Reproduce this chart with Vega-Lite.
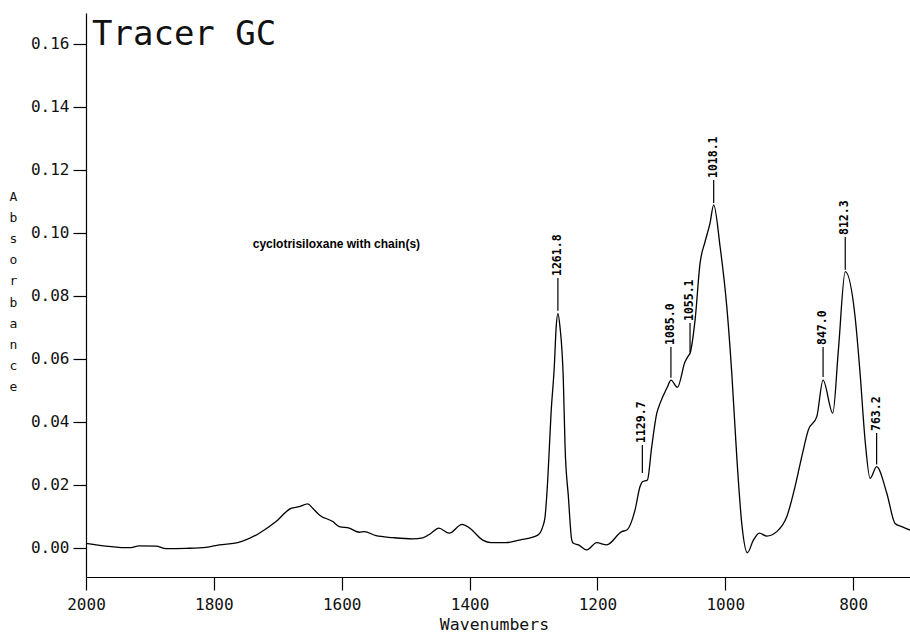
{
  "$schema": "https://vega.github.io/schema/vega-lite/v6.json",
  "width": 824,
  "height": 564,
  "autosize": {"type": "none"},
  "padding": {"left": 86, "top": 13, "right": 0, "bottom": 55},
  "background": "white",
  "config": {
    "view": {"stroke": null},
    "axis": {
      "grid": false,
      "domainColor": "#000",
      "tickColor": "#000",
      "labelColor": "#111",
      "titleColor": "#111",
      "labelFont": "DejaVu Sans Mono",
      "titleFont": "DejaVu Sans Mono",
      "titleFontWeight": "normal",
      "domainWidth": 1.2,
      "tickWidth": 1.2
    }
  },
  "datasets": {
    "spectrum": [
      {"wn": 2000, "abs": 0.0014}, {"wn": 1932.3, "abs": 0.0000}, {"wn": 1916.6, "abs": 0.0006},
      {"wn": 1890.5, "abs": 0.0005}, {"wn": 1874.8, "abs": -0.0003}, {"wn": 1843.5, "abs": -0.0002},
      {"wn": 1812.3, "abs": 0.0001}, {"wn": 1791.5, "abs": 0.0009}, {"wn": 1762.7, "abs": 0.0016},
      {"wn": 1728.9, "abs": 0.0046}, {"wn": 1702.7, "abs": 0.0083}, {"wn": 1679.3, "abs": 0.0125},
      {"wn": 1666.3, "abs": 0.0130}, {"wn": 1653.2, "abs": 0.0139}, {"wn": 1645.3, "abs": 0.0125},
      {"wn": 1635, "abs": 0.0104}, {"wn": 1614, "abs": 0.0083}, {"wn": 1603.7, "abs": 0.0067},
      {"wn": 1588.1, "abs": 0.0062}, {"wn": 1572.4, "abs": 0.0049}, {"wn": 1564.6, "abs": 0.0051},
      {"wn": 1546.3, "abs": 0.0038}, {"wn": 1520.2, "abs": 0.0032}, {"wn": 1488.9, "abs": 0.0028},
      {"wn": 1473.2, "abs": 0.0031}, {"wn": 1460.2, "abs": 0.0046}, {"wn": 1448.2, "abs": 0.0062},
      {"wn": 1431.6, "abs": 0.0046}, {"wn": 1411.7, "abs": 0.0074}, {"wn": 1400.3, "abs": 0.0063},
      {"wn": 1379.4, "abs": 0.0024}, {"wn": 1366.4, "abs": 0.0016}, {"wn": 1342.9, "abs": 0.0016},
      {"wn": 1322.1, "abs": 0.0024}, {"wn": 1293.3, "abs": 0.0040}, {"wn": 1285.5, "abs": 0.0067},
      {"wn": 1281.9, "abs": 0.0098}, {"wn": 1277.7, "abs": 0.0215}, {"wn": 1272.5, "abs": 0.0427},
      {"wn": 1267.3, "abs": 0.0580}, {"wn": 1264.5, "abs": 0.0700}, {"wn": 1261.8, "abs": 0.0744},
      {"wn": 1258.5, "abs": 0.0700}, {"wn": 1253.3, "abs": 0.0532}, {"wn": 1250.6, "abs": 0.0321},
      {"wn": 1245.4, "abs": 0.0162}, {"wn": 1240.1, "abs": 0.0024}, {"wn": 1237.6, "abs": 0.0014},
      {"wn": 1229.8, "abs": 0.0009}, {"wn": 1216.7, "abs": -0.0007}, {"wn": 1201, "abs": 0.0016},
      {"wn": 1185.4, "abs": 0.0009}, {"wn": 1161.9, "abs": 0.0051}, {"wn": 1154.1, "abs": 0.0056},
      {"wn": 1141.1, "abs": 0.0120}, {"wn": 1133.3, "abs": 0.0194}, {"wn": 1129.7, "abs": 0.0209},
      {"wn": 1121.8, "abs": 0.0215}, {"wn": 1115, "abs": 0.0321}, {"wn": 1107.1, "abs": 0.0427},
      {"wn": 1102, "abs": 0.0458}, {"wn": 1090.5, "abs": 0.0510}, {"wn": 1085.0, "abs": 0.0532},
      {"wn": 1074.9, "abs": 0.0509}, {"wn": 1062.9, "abs": 0.0590}, {"wn": 1057.7, "abs": 0.0609},
      {"wn": 1055.1, "abs": 0.0617}, {"wn": 1047.2, "abs": 0.0723}, {"wn": 1039.4, "abs": 0.0903},
      {"wn": 1031.6, "abs": 0.0971}, {"wn": 1023.8, "abs": 0.1030}, {"wn": 1018.1, "abs": 0.1088},
      {"wn": 1008.1, "abs": 0.0956}, {"wn": 997.6, "abs": 0.0765}, {"wn": 989.8, "abs": 0.0554},
      {"wn": 982, "abs": 0.0289}, {"wn": 974.2, "abs": 0.0077}, {"wn": 965.4, "abs": -0.0016},
      {"wn": 956, "abs": 0.0024}, {"wn": 946.6, "abs": 0.0046}, {"wn": 935.1, "abs": 0.0037},
      {"wn": 919.4, "abs": 0.0051}, {"wn": 903.8, "abs": 0.0098}, {"wn": 890.8, "abs": 0.0194},
      {"wn": 880.3, "abs": 0.0289}, {"wn": 870, "abs": 0.0374}, {"wn": 856.8, "abs": 0.0416},
      {"wn": 847.0, "abs": 0.0532}, {"wn": 831.8, "abs": 0.0427}, {"wn": 823, "abs": 0.0628},
      {"wn": 812.3, "abs": 0.0876}, {"wn": 796.9, "abs": 0.0733}, {"wn": 789.1, "abs": 0.0554},
      {"wn": 781.3, "abs": 0.0342}, {"wn": 773.4, "abs": 0.0220}, {"wn": 763.2, "abs": 0.0257},
      {"wn": 747.3, "abs": 0.0173}, {"wn": 734.3, "abs": 0.0077}, {"wn": 723.8, "abs": 0.0067},
      {"wn": 711, "abs": 0.0056}
    ],
    "peaks": [
      {"wn": 1261.8, "label": "1261.8", "abs": 0.0752, "hi": 0.0856},
      {"wn": 1129.7, "label": "1129.7", "abs": 0.0237, "hi": 0.0326},
      {"wn": 1085.0, "label": "1085.0", "abs": 0.0539, "hi": 0.0637},
      {"wn": 1055.1, "label": "1055.1", "abs": 0.0620, "hi": 0.0713},
      {"wn": 1018.1, "label": "1018.1", "abs": 0.1094, "hi": 0.1167},
      {"wn": 847.0, "label": "847.0", "abs": 0.0542, "hi": 0.0637},
      {"wn": 812.3, "label": "812.3", "abs": 0.0882, "hi": 0.0986},
      {"wn": 763.2, "label": "763.2", "abs": 0.0264, "hi": 0.0364}
    ]
  },
  "encoding": {
    "x": {
      "field": "wn", "type": "quantitative",
      "scale": {"domain": [711, 2000], "reverse": true, "nice": false, "zero": false},
      "axis": {
        "values": [2000, 1800, 1600, 1400, 1200, 1000, 800],
        "format": "d",
        "tickSize": 13,
        "labelPadding": 6,
        "labelFontSize": 16,
        "labelFlush": false,
        "title": "Wavenumbers",
        "titleFontSize": 16.5,
        "titleX": 408,
        "titleY": 52,
        "titleBaseline": "alphabetic",
        "titleAlign": "center"
      }
    },
    "y": {
      "field": "abs", "type": "quantitative",
      "scale": {"domain": [-0.0093, 0.1697], "nice": false, "zero": false},
      "axis": {
        "values": [0, 0.02, 0.04, 0.06, 0.08, 0.1, 0.12, 0.14, 0.16],
        "format": ".2f",
        "tickSize": 13,
        "labelPadding": 4,
        "labelFontSize": 16,
        "title": ["A", "b", "s", "o", "r", "b", "a", "n", "c", "e"],
        "titleFontSize": 13,
        "titleLineHeight": 21.2,
        "titleAngle": 0,
        "titleX": -73,
        "titleY": 187,
        "titleAlign": "center",
        "titleBaseline": "alphabetic"
      }
    }
  },
  "layer": [
    {
      "data": {"name": "spectrum"},
      "mark": {"type": "line", "color": "#000", "strokeWidth": 1.3, "clip": true, "interpolate": "monotone"}
    },
    {
      "data": {"name": "peaks"},
      "mark": {"type": "rule", "color": "#000", "strokeWidth": 1.2},
      "encoding": {
        "y2": {"field": "hi"}
      }
    },
    {
      "data": {"name": "peaks"},
      "mark": {"type": "text", "angle": 270, "align": "left", "baseline": "middle", "dx": 2, "font": "DejaVu Sans Mono", "fontSize": 11.5, "fontWeight": "bold", "color": "#000"},
      "encoding": {
        "y": {"field": "hi", "type": "quantitative"},
        "text": {"field": "label"}
      }
    },
    {
      "data": {"values": [{"wn": 1990.6, "abs": 0.1596, "note": "Tracer GC"}]},
      "mark": {"type": "text", "align": "left", "baseline": "alphabetic", "font": "DejaVu Sans Mono", "fontSize": 34, "color": "#111"},
      "encoding": {
        "text": {"field": "note"}
      }
    },
    {
      "data": {"values": [{"wn": 1739.2, "abs": 0.0951, "note": "cyclotrisiloxane with chain(s)"}]},
      "mark": {"type": "text", "align": "left", "baseline": "alphabetic", "font": "Liberation Sans", "fontSize": 12, "fontWeight": "bold", "color": "#000"},
      "encoding": {
        "text": {"field": "note"}
      }
    }
  ]
}
